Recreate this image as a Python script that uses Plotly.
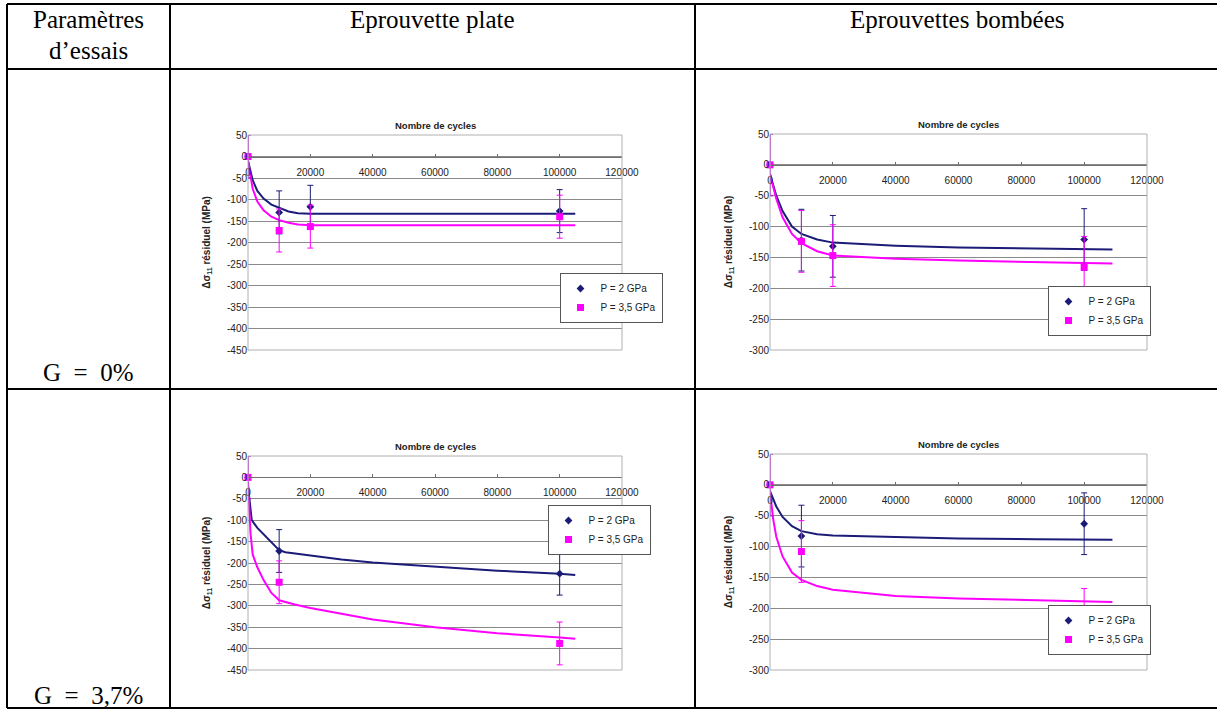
import plotly.graph_objects as go

W, H = 1217, 709

# Measured points: number of cycles -> change of residual stress (MPa)
cycles_a = [0, 10000, 20000, 100000]
cycles_b = [0, 10000, 100000]

plate_g0_p2 = [0, -130, -117, -127]
plate_g0_p35 = [0, -172, -163, -140]
bomb_g0_p2 = [0, -122, -132, -121]
bomb_g0_p35 = [0, -124, -147, -166]
plate_g37_p2 = [0, -172, -225]
plate_g37_p35 = [0, -245, -388]
bomb_g37_p2 = [0, -83, -63]
bomb_g37_p35 = [0, -108, -218]

err_a = [50, 50, 50, 50]
err_b = [50, 50, 50]

# Trend curves
tx_plate_g0 = [0, 1500, 3000, 5000, 7500, 10000, 13000, 16000, 20000, 50000, 105000]
ty_plate_g0_p2 = [-10, -55, -80, -98, -112, -120, -128, -132, -133, -133, -133]
ty_plate_g0_p35 = [-10, -75, -105, -125, -140, -148, -154, -158, -160, -160, -160]

tx_bomb_g0 = [0, 2000, 4000, 7000, 10000, 15000, 20000, 40000, 60000, 85000, 109000]
ty_bomb_g0_p2 = [-15, -50, -75, -100, -112, -121, -126, -131, -134, -136, -137]
ty_bomb_g0_p35 = [-15, -55, -85, -112, -127, -140, -147, -152, -155, -158, -160]

tx_plate_g37_p2 = [0, 500, 1200, 3000, 6000, 10000, 12000, 20000, 30000, 40000,
                   60000, 80000, 100000, 105000]
ty_plate_g37_p2 = [-20, -60, -100, -118, -140, -170, -175, -182, -192, -199,
                   -209, -218, -225, -228]
tx_plate_g37_p35 = [0, 300, 800, 1500, 3000, 5000, 7500, 10000, 15000, 20000,
                    40000, 60000, 80000, 100000, 105000]
ty_plate_g37_p35 = [-10, -60, -130, -180, -210, -240, -270, -287, -297, -305,
                    -332, -350, -364, -374, -377]

tx_bomb_g37 = [0, 1000, 2000, 4000, 7000, 10000, 15000, 20000, 40000, 60000, 85000, 109000]
ty_bomb_g37_p2 = [-10, -24, -35, -52, -67, -75, -80, -82, -85, -87, -88, -89]
ty_bomb_g37_p35 = [-10, -55, -84, -116, -142, -154, -164, -170, -180, -184, -187, -190]

# Axis ticks
x_ticks = [0, 20000, 40000, 60000, 80000, 100000, 120000]
y_ticks_plate = [50, 0, -50, -100, -150, -200, -250, -300, -350, -400, -450]
y_labels_plate = ["50", "0", "-50", "-100", "-150", "-200", "-250", "-300", "-350", "-400", "-450"]
y_ticks_bomb = [50, 0, -50, -100, -150, -200, -250, -300]
y_labels_bomb = ["50", "0", "-50", "-100", "-150", "-200", "-250", "-300"]

series_names = ["P = 2 GPa", "P = 3,5 GPa"]

NAVY = "#1b1b78"
MAGENTA = "#ff00ff"
GRID = "#8a8a8a"
CHART_FONT = "Liberation Sans, Arial, sans-serif"
TABLE_FONT = "Liberation Serif, Times New Roman, serif"

# box = plot area in pixels (left, right, top, bottom); leg = legend box centre
panels = [
    dict(box=(248, 622, 135, 350), yr=(-450, 50), yt=y_ticks_plate, yl=y_labels_plate,
         leg=(611, 298), x=cycles_a, p2=plate_g0_p2, p35=plate_g0_p35, err=err_a,
         c2=(tx_plate_g0, ty_plate_g0_p2), c35=(tx_plate_g0, ty_plate_g0_p35)),
    dict(box=(770, 1147, 134, 350), yr=(-300, 50), yt=y_ticks_bomb, yl=y_labels_bomb,
         leg=(1099, 311), x=cycles_a, p2=bomb_g0_p2, p35=bomb_g0_p35, err=err_a,
         c2=(tx_bomb_g0, ty_bomb_g0_p2), c35=(tx_bomb_g0, ty_bomb_g0_p35)),
    dict(box=(248, 622, 456, 670), yr=(-450, 50), yt=y_ticks_plate, yl=y_labels_plate,
         leg=(599, 530), x=cycles_b, p2=plate_g37_p2, p35=plate_g37_p35, err=err_b,
         c2=(tx_plate_g37_p2, ty_plate_g37_p2), c35=(tx_plate_g37_p35, ty_plate_g37_p35)),
    dict(box=(770, 1147, 454, 670), yr=(-300, 50), yt=y_ticks_bomb, yl=y_labels_bomb,
         leg=(1099, 630), x=cycles_b, p2=bomb_g37_p2, p35=bomb_g37_p35, err=err_b,
         c2=(tx_bomb_g37, ty_bomb_g37_p2), c35=(tx_bomb_g37, ty_bomb_g37_p35)),
]

fig = go.Figure()
shapes = []
annotations = []
layout = {}

for i, p in enumerate(panels, start=1):
    sfx = "" if i == 1 else str(i)
    xa, ya = "x" + sfx, "y" + sfx
    leg = "legend" + sfx
    x0, x1, y0, y1 = p["box"]
    xdom = [x0 / W, x1 / W]
    ydom = [1 - y1 / H, 1 - y0 / H]
    ymin, ymax = p["yr"]
    # x axis crosses the y axis at 0, like in Excel
    xpos = ydom[0] + (0 - ymin) / (ymax - ymin) * (ydom[1] - ydom[0])

    # trend lines
    fig.add_trace(go.Scatter(x=p["c2"][0], y=p["c2"][1], mode="lines", xaxis=xa, yaxis=ya,
                             line=dict(color=NAVY, width=2), showlegend=False, hoverinfo="skip"))
    fig.add_trace(go.Scatter(x=p["c35"][0], y=p["c35"][1], mode="lines", xaxis=xa, yaxis=ya,
                             line=dict(color=MAGENTA, width=2), showlegend=False, hoverinfo="skip"))
    # measured points
    fig.add_trace(go.Scatter(x=p["x"], y=p["p2"], mode="markers", name=series_names[0],
                             xaxis=xa, yaxis=ya, legend=leg, cliponaxis=False,
                             marker=dict(symbol="diamond", size=6, color=NAVY),
                             error_y=dict(type="data", array=p["err"], color=NAVY,
                                          thickness=1, width=3)))
    fig.add_trace(go.Scatter(x=p["x"], y=p["p35"], mode="markers", name=series_names[1],
                             xaxis=xa, yaxis=ya, legend=leg, cliponaxis=False,
                             marker=dict(symbol="square", size=7, color=MAGENTA),
                             error_y=dict(type="data", array=p["err"], color=MAGENTA,
                                          thickness=1, width=3)))

    layout["xaxis" + sfx] = dict(
        domain=xdom, range=[0, 120000], anchor="free", position=xpos, automargin=False,
        tickvals=x_ticks, tickformat="d", showgrid=False, zeroline=False,
        showline=True, linecolor="#707070", linewidth=1,
        ticks="inside", ticklen=3, tickcolor="#707070", ticklabelstandoff=6,
        tickfont=dict(family=CHART_FONT, size=10, color="#222"), fixedrange=True,
    )
    layout["yaxis" + sfx] = dict(
        domain=ydom, range=[ymin, ymax], anchor=xa, automargin=False,
        tickvals=p["yt"], ticktext=p["yl"], showgrid=True, gridcolor=GRID, gridwidth=1,
        zeroline=False, showline=False, ticks="",
        tickfont=dict(family=CHART_FONT, size=10, color="#222"), fixedrange=True,
        title=dict(text="<b>Δσ<sub>11</sub> résiduel (MPa)</b>", standoff=14,
                   font=dict(family=CHART_FONT, size=10, color="#222")),
    )
    layout[leg] = dict(
        x=p["leg"][0] / W, y=1 - p["leg"][1] / H, xanchor="center", yanchor="middle",
        bgcolor="white", bordercolor="#555", borderwidth=1, tracegroupgap=0,
        itemwidth=30, font=dict(family=CHART_FONT, size=10, color="#222"),
    )
    # plot area frame
    shapes.append(dict(type="rect", xref=xa + " domain", yref=ya + " domain",
                       x0=0, x1=1, y0=0, y1=1, line=dict(color="#b0b0b0", width=1)))
    annotations.append(dict(text="<b>Nombre de cycles</b>", xref=xa + " domain",
                            yref=ya + " domain", x=0.5, y=1, yanchor="bottom", yshift=2,
                            showarrow=False,
                            font=dict(family=CHART_FONT, size=9.5, color="#222")))

# table grid
for yy in [4, 69, 389, 708]:
    shapes.append(dict(type="line", xref="paper", yref="paper", x0=7 / W, x1=1,
                       y0=1 - yy / H, y1=1 - yy / H, line=dict(color="black", width=2)))
for xx in [7, 170, 695]:
    shapes.append(dict(type="line", xref="paper", yref="paper", x0=xx / W, x1=xx / W,
                       y0=1 - 4 / H, y1=1 - 708 / H, line=dict(color="black", width=2)))

table_texts = [
    ("Paramètres", 88, 20),
    ("d’essais", 88, 50),
    ("Eprouvette plate", 432, 20),
    ("Eprouvettes bombées", 957, 20),
    ("G  =  0%", 88, 372),
    ("G  =  3,7%", 88, 695),
]
for txt, cx, cy in table_texts:
    annotations.append(dict(text=txt, xref="paper", yref="paper", x=cx / W, y=1 - cy / H,
                            xanchor="center", yanchor="middle", showarrow=False,
                            font=dict(family=TABLE_FONT, size=25, color="black")))

fig.update_layout(
    width=W, height=H, margin=dict(l=0, r=0, t=0, b=0, autoexpand=False),
    paper_bgcolor="white", plot_bgcolor="white",
    shapes=shapes, annotations=annotations, **layout,
)

# pin the figure to the window's top-left corner (no page margin, no scrollbars)
pin_js = ("var d=document.getElementById('{plot_id}');"
          "d.style.position='fixed';d.style.left='0px';d.style.top='0px';"
          "document.body.style.margin='0';"
          "document.documentElement.style.overflow='hidden';")
fig.write_html("out.html", config={"displayModeBar": False}, post_script=pin_js)
